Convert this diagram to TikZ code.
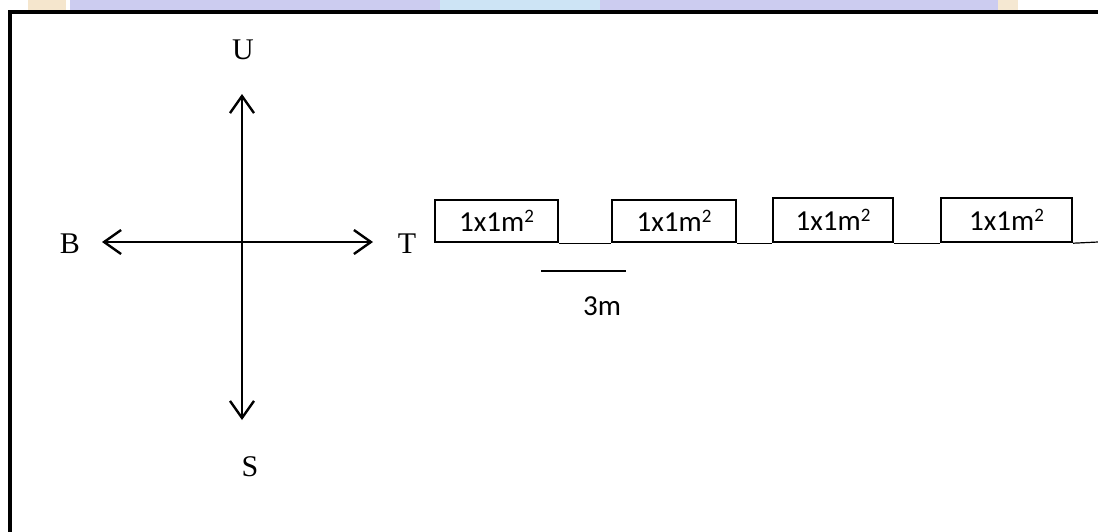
\documentclass[tikz,border=0pt]{standalone}
\usepackage{fontspec}
\setmainfont{Liberation Serif}
\newfontfamily\calib{Carlito}
\usetikzlibrary{arrows.meta}
\newcommand{\sqsup}{\raisebox{9pt}{\fontsize{19}{19}\selectfont 2}}
\tikzset{
  x=1pt, y=-1pt,
  frame/.style={line width=3.5pt, line cap=rect},
  compass/.style={line width=2.4pt, {Straight Barb[length=17pt,width=24pt,line width=2.4pt]}-{Straight Barb[length=17pt,width=24pt,line width=2.4pt]}},
  dirlabel/.style={font=\fontsize{30}{32}\selectfont, inner sep=0pt},
  plot/.style={draw, line width=2.4pt, inner sep=0pt, font=\calib\fontsize{29}{30}\selectfont},
  thin line/.style={line width=1.2pt},
  wm/.style={draw=none}
}
\begin{document}
\begin{tikzpicture}
\useasboundingbox (0,0) rectangle (1098,531);
\fill[white] (0,0) rectangle (1098,531);
% watermark strip at top
\fill[wm, fill={rgb,255:red,204;green,204;blue,240}] (70,0) rectangle (1000,10);
\fill[wm, fill={rgb,255:red,205;green,228;blue,245}] (440,0) rectangle (600,10);
\fill[wm, fill={rgb,255:red,245;green,230;blue,205}] (28,0) rectangle (66,10);
\fill[wm, fill={rgb,255:red,245;green,232;blue,210}] (998,0) rectangle (1018,10);
% frame (cut off at right and bottom)
\draw[frame] (10,531) -- (10,12) -- (1098,12);
% compass
\coordinate (N) at (242,94);
\coordinate (Sth) at (242,420);
\coordinate (W) at (102,242);
\coordinate (E) at (373,242);
\draw[compass] (Sth) -- (N);
\draw[compass] (W) -- (E);
\node[dirlabel] (lU) at (243,50) {U};
\node[dirlabel] (lB) at (70,244) {B};
\node[dirlabel] (lT) at (407,244) {T};
\node[dirlabel] (lS) at (250,467) {S};
% plots
\node[plot, minimum width=123pt, minimum height=42pt] (p1) at (496.5,221) {1x1m\sqsup};
\node[plot, minimum width=124pt, minimum height=42pt] (p2) at (674,221) {1x1m\sqsup};
\node[plot, minimum width=120pt, minimum height=44pt] (p3) at (833,220) {1x1m\sqsup};
\node[plot, minimum width=131pt, minimum height=44pt] (p4) at (1006.5,220) {1x1m\sqsup};
\coordinate (lineEnd) at (1098,242);
\draw[thin line] (p1.south east) -- (p2.south west);
\draw[thin line] (p2.south east) -- (p3.south west);
\draw[thin line] (p3.south east) -- (p4.south west);
\draw[thin line] (p4.south east) -- (lineEnd);
% scale
\coordinate (s1) at (541,271);
\coordinate (s2) at (626,271);
\draw[thin line] (s1) -- (s2);
\node[inner sep=0pt, font=\calib\fontsize{29}{30}\selectfont] (sc) at (602,306) {3m};
\end{tikzpicture}
\end{document}
